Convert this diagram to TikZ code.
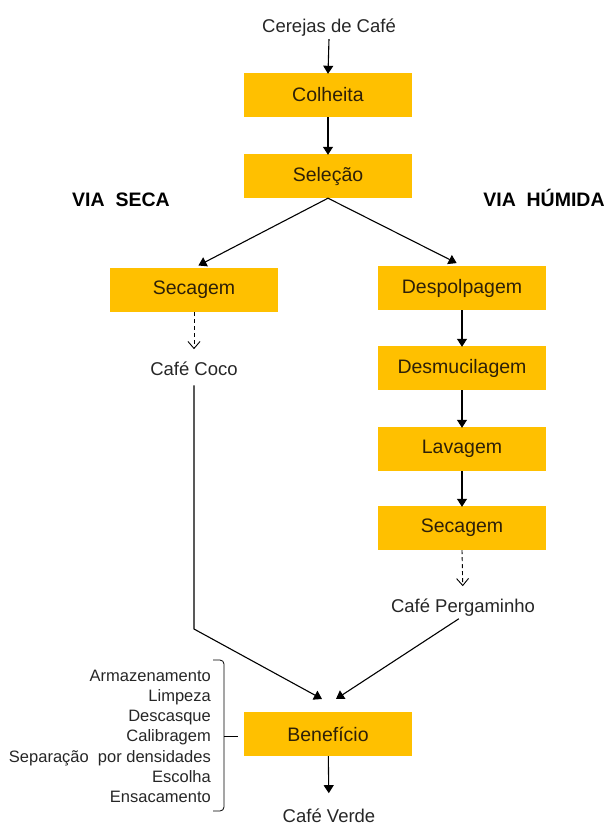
\documentclass[tikz,border=0pt]{standalone}
\usepackage{fontspec}
\setmainfont{Liberation Sans}
\usetikzlibrary{arrows.meta}

\definecolor{ouro}{HTML}{FFC000}
\definecolor{castanho}{HTML}{2E2008}

\tikzset{
  etapa/.style={fill=ouro, minimum width=168pt, minimum height=44pt, inner sep=0pt,
    text=castanho, font=\fontsize{19.5}{20}\selectfont},
  rotulo/.style={anchor=base, inner sep=0pt, text=black!85, font=\fontsize{18.5}{20}\selectfont},
  via/.style={anchor=base, inner sep=0pt, font=\fontsize{19.5}{20}\selectfont\bfseries},
  item/.style={anchor=base east, inner sep=0pt, text=black!85, font=\fontsize{16.5}{18}\selectfont},
  seta/.style={-{Triangle[length=8pt,width=10pt]}, line width=1.1pt},
  tracejada/.style={-{Straight Barb[length=7pt,width=12pt]}, dash pattern=on 4pt off 3pt, line width=0.9pt},
}

\begin{document}
\begin{tikzpicture}[x=1pt,y=-1pt]
  \useasboundingbox (0,0) rectangle (609,825);
  % tronco comum
  \node [rotulo] (cerejas) at (329,32) {Cerejas de Café};
  \node [etapa] (colheita) at (328,95) {Colheita};
  \node [etapa] (selecao) at (328,176) {Seleção};
  \node [via] (viaseca) at (121,206) {VIA\ \ SECA};
  \node [via] (viahumida) at (544,206) {VIA\ \ HÚMIDA};
  % via seca
  \node [etapa] (secagemA) at (194,290) {Secagem};
  \node [rotulo] (coco) at (194,375) {Café Coco};
  % via humida
  \node [etapa] (despolpagem) at (462,288) {Despolpagem};
  \node [etapa] (desmucilagem) at (462,368) {Desmucilagem};
  \node [etapa] (lavagem) at (462,449) {Lavagem};
  \node [etapa] (secagemB) at (462,528) {Secagem};
  \node [rotulo] (pergaminho) at (463,612) {Café Pergaminho};
  % beneficio
  \node [etapa] (beneficio) at (328,734) {Benefício};
  \node [rotulo] (verde) at (329,822) {Café Verde};
  \foreach \texto [count=\i from 0] in {Armazenamento, Limpeza, Descasque, Calibragem,
      Separação\ \ por densidades, Escolha, Ensacamento}
    \node [item] (item\i) at (211,681+20.33*\i) {\texto};
  \coordinate (dobra) at (194,629);
  \coordinate (chegadaA) at (322,699);
  \coordinate (chegadaB) at (336,699);

  \draw [seta] (cerejas.south) ++(0,3) -- ([yshift=-1pt]colheita.north);
  \draw [seta] (colheita) -- ([yshift=-1pt]selecao.north);
  \draw [seta, shorten >=5pt] (selecao.south) -- (secagemA.north);
  \draw [seta, shorten >=6pt] (selecao.south) -- (despolpagem.north);
  \draw [tracejada, shorten >=12pt] (secagemA.south) -- (coco.north);
  \draw [seta] (despolpagem) -- ([yshift=-1pt]desmucilagem.north);
  \draw [seta] (desmucilagem) -- ([yshift=-1pt]lavagem.north);
  \draw [seta] (lavagem) -- ([yshift=-1pt]secagemB.north);
  \draw [tracejada, shorten >=12pt] (secagemB.south) -- (pergaminho.north);
  \draw [seta, shorten <=10pt] (coco.south) -- (dobra) -- (chegadaA);
  \draw [seta, shorten <=5pt] (pergaminho.south) -- (chegadaB);
  \draw [seta, shorten >=15pt] (beneficio) -- (verde.north);
  % chaveta
  \draw [line width=0.8pt, rounded corners=4pt] (213,660) -| (224,811) -- (213,811);
  \draw [line width=0.8pt] (224,736) -- (238,736);
\end{tikzpicture}
\end{document}
